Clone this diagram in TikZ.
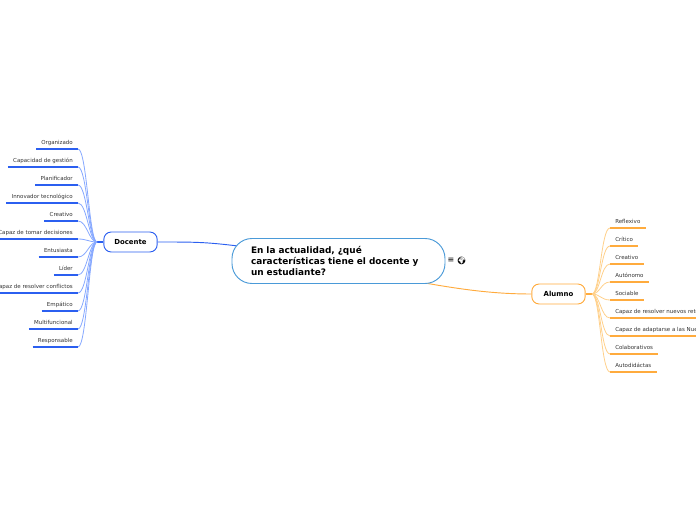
\documentclass[tikz,border=0pt]{standalone}
\usepackage{fontspec}
\setmainfont{DejaVu Sans}
\newfontfamily\emojifont{Noto Emoji}
\usepackage{tikz}
\usetikzlibrary{backgrounds}
\definecolor{docblue}{HTML}{2B5FF0}
\definecolor{doclight}{HTML}{86A8FF}
\definecolor{alumorange}{HTML}{FFAB3D}
\definecolor{alumlight}{HTML}{FFD08A}
\definecolor{rootblue}{HTML}{4A9AD8}
\begin{document}
\begin{tikzpicture}[x=.75pt,y=-.75pt,
root/.style={draw=rootblue,fill=white,rounded corners=15pt,line width=.7pt,minimum width=159.75pt,minimum height=33.75pt,text width=131.25pt,inner xsep=14.25pt,inner ysep=0pt,align=left,font=\fontsize{6.7}{8.25}\selectfont\bfseries},
branch/.style={fill=white,rounded corners=5.5pt,line width=.7pt,minimum width=40pt,minimum height=15pt,inner sep=0pt,font=\fontsize{5.2}{7}\selectfont\bfseries},
leaf/.style={inner xsep=3.75pt,inner ysep=0pt,minimum height=9pt,text height=3pt,text depth=.9pt,text=black!80,font=\fontsize{4.12}{5}\selectfont},
dleaf/.style={leaf,anchor=south east,text height=4.2pt},
aleaf/.style={leaf,anchor=south west},
dline/.style={draw=docblue,line width=1pt},
aline/.style={draw=alumorange,line width=1pt},
dconn/.style={draw=doclight,line width=.6pt},
aconn/.style={draw=alumlight,line width=.6pt}]
\useasboundingbox (0,0) rectangle (696,520);
\node[root] (root) at (338.5,261) {En la actualidad, ¿qué\\características tiene el docente y\\un estudiante?};
\node[inner sep=0pt,font=\fontsize{6}{7}\selectfont] (menu) at (451,260.5) {≡};
\node[inner sep=0pt,font=\fontsize{5.6}{7}\selectfont\emojifont] (globe) at (461.5,260.5) {🌍};
\node[branch,draw=docblue] (docente) at (130.5,242) {Docente};
\node[branch,draw=alumorange] (alumno) at (558.5,294) {Alumno};
\coordinate (hubd) at (97,242);
\coordinate (huba) at (592,294);
\coordinate (rootd) at (238,246);
\coordinate (roota) at (425,283);
% Docente side
\node[dleaf] (d1) at (78,149) {Organizado};
\node[dleaf] (d2) at (78,167) {Capacidad de gestión};
\node[dleaf] (d3) at (78,185) {Planificador};
\node[dleaf] (d4) at (78,203) {Innovador tecnológico};
\node[dleaf] (d5) at (78,221) {Creativo};
\node[dleaf] (d6) at (78,239) {Capaz de tomar decisiones};
\node[dleaf] (d7) at (78,257) {Entusiasta};
\node[dleaf] (d8) at (78,275) {Líder};
\node[dleaf] (d9) at (78,293) {Capaz de resolver conflictos};
\node[dleaf] (d10) at (78,311) {Empático};
\node[dleaf] (d11) at (78,329) {Multifuncional};
\node[dleaf] (d12) at (78,347) {Responsable};
% Alumno side
\node[aleaf] (a1) at (610,228) {Reflexivo};
\node[aleaf] (a2) at (610,246) {Crítico};
\node[aleaf] (a3) at (610,264) {Creativo};
\node[aleaf] (a4) at (610,282) {Autónomo};
\node[aleaf] (a5) at (610,300) {Sociable};
\node[aleaf] (a6) at (610,318) {Capaz de resolver nuevos retos};
\node[aleaf] (a7) at (610,336) {Capaz de adaptarse a las Nuevas};
\node[aleaf] (a8) at (610,354) {Colaborativos};
\node[aleaf] (a9) at (610,372) {Autodidáctas};
\begin{scope}[on background layer]
\draw[draw=docblue,line width=.7pt] (docente.east) .. controls (195,242) and (205,242) .. (rootd);
\draw[draw=alumorange,line width=.7pt] (roota) .. controls (470,291) and (500,294) .. (alumno.west);
\draw[dline] (docente.west)--(hubd);\draw[aline] (alumno.east)--(huba);
\draw[dconn] (hubd) .. controls +(-8,0) and +(9,0) .. (d1.south east);
\draw[dconn] (hubd) .. controls +(-8,0) and +(9,0) .. (d2.south east);
\draw[dconn] (hubd) .. controls +(-8,0) and +(9,0) .. (d3.south east);
\draw[dconn] (hubd) .. controls +(-8,0) and +(9,0) .. (d4.south east);
\draw[dconn] (hubd) .. controls +(-8,0) and +(9,0) .. (d5.south east);
\draw[dconn] (hubd) .. controls +(-8,0) and +(9,0) .. (d6.south east);
\draw[dconn] (hubd) .. controls +(-8,0) and +(9,0) .. (d7.south east);
\draw[dconn] (hubd) .. controls +(-8,0) and +(9,0) .. (d8.south east);
\draw[dconn] (hubd) .. controls +(-8,0) and +(9,0) .. (d9.south east);
\draw[dconn] (hubd) .. controls +(-8,0) and +(9,0) .. (d10.south east);
\draw[dconn] (hubd) .. controls +(-8,0) and +(9,0) .. (d11.south east);
\draw[dconn] (hubd) .. controls +(-8,0) and +(9,0) .. (d12.south east);
\draw[aconn] (huba) .. controls +(8,0) and +(-9,0) .. (a1.south west);
\draw[aconn] (huba) .. controls +(8,0) and +(-9,0) .. (a2.south west);
\draw[aconn] (huba) .. controls +(8,0) and +(-9,0) .. (a3.south west);
\draw[aconn] (huba) .. controls +(8,0) and +(-9,0) .. (a4.south west);
\draw[aconn] (huba) .. controls +(8,0) and +(-9,0) .. (a5.south west);
\draw[aconn] (huba) .. controls +(8,0) and +(-9,0) .. (a6.south west);
\draw[aconn] (huba) .. controls +(8,0) and +(-9,0) .. (a7.south west);
\draw[aconn] (huba) .. controls +(8,0) and +(-9,0) .. (a8.south west);
\draw[aconn] (huba) .. controls +(8,0) and +(-9,0) .. (a9.south west);
\end{scope}
\draw[dline] (d1.south west)--(d1.south east);\draw[dline] (d2.south west)--(d2.south east);\draw[dline] (d3.south west)--(d3.south east);\draw[dline] (d4.south west)--(d4.south east);
\draw[dline] (d5.south west)--(d5.south east);\draw[dline] (d6.south west)--(d6.south east);\draw[dline] (d7.south west)--(d7.south east);\draw[dline] (d8.south west)--(d8.south east);
\draw[dline] (d9.south west)--(d9.south east);\draw[dline] (d10.south west)--(d10.south east);\draw[dline] (d11.south west)--(d11.south east);\draw[dline] (d12.south west)--(d12.south east);
\draw[aline] (a1.south west)--(a1.south east);\draw[aline] (a2.south west)--(a2.south east);\draw[aline] (a3.south west)--(a3.south east);
\draw[aline] (a4.south west)--(a4.south east);\draw[aline] (a5.south west)--(a5.south east);\draw[aline] (a6.south west)--(a6.south east);
\draw[aline] (a7.south west)--(a7.south east);\draw[aline] (a8.south west)--(a8.south east);\draw[aline] (a9.south west)--(a9.south east);
\end{tikzpicture}
\end{document}
